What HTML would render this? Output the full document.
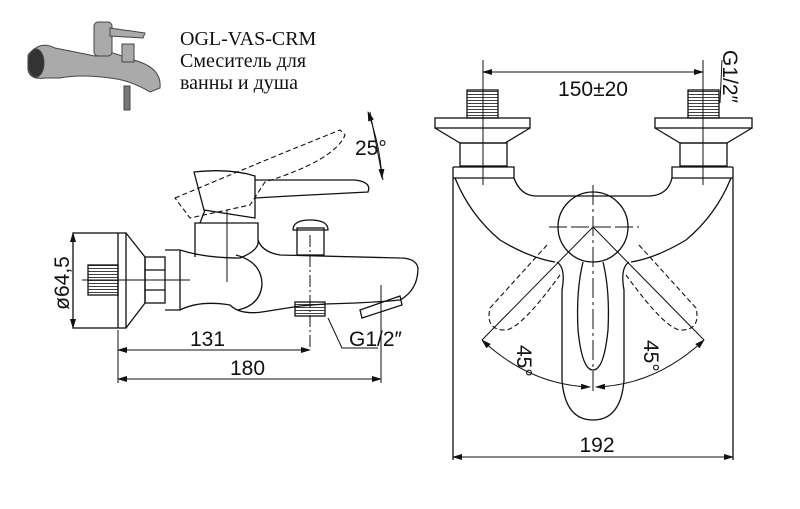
<!DOCTYPE html>
<html><head><meta charset="utf-8"><style>
html,body{margin:0;padding:0;background:#fff;}
svg{display:block;}
.t{font-family:"Liberation Serif","Noto Serif CJK SC",serif;font-size:20px;fill:#111;}
.d{font-family:"Liberation Sans","DejaVu Sans",sans-serif;font-size:21px;fill:#111;}
</style></head><body>
<svg width="800" height="509" viewBox="0 0 800 509" xmlns="http://www.w3.org/2000/svg">
<defs><marker id="a" markerWidth="10" markerHeight="6" refX="9" refY="3" orient="auto-start-reverse"><path d="M0,0 L10,3 L0,6 Z" fill="#111"/></marker>
<pattern id="h" width="4" height="3" patternUnits="userSpaceOnUse"><line x1="0" y1="1.5" x2="4" y2="1.5" stroke="#111" stroke-width="0.8"/></pattern></defs>
<!-- photo -->
<g fill="#aaa" stroke="#444" stroke-width="1">
<path d="M28,55 Q40,40 55,48 L90,55 Q100,58 110,52 L140,62 Q162,70 160,88 L150,92 Q130,80 110,78 Q80,74 60,78 L45,78 Q30,80 28,70 Z"/>
<ellipse cx="36" cy="63" rx="8" ry="14" fill="#333"/>
<rect x="94" y="22" width="18" height="34" rx="4"/>
<path d="M110,28 L145,33 L143,38 L110,36Z"/>
<rect x="122" y="44" width="12" height="18"/>
<rect x="124" y="86" width="6" height="24" fill="#777"/>
</g>
<text class="t" x="180" y="45">OGL-VAS-CRM</text>
<text class="t" x="180" y="67">Смеситель для</text>
<text class="t" x="180" y="89">ванны и душа</text>

<g fill="none" stroke="#111" stroke-width="1.3">
<!-- left view -->
<rect x="73" y="233" width="53" height="95"/>
<line x1="118" y1="233" x2="118" y2="328"/>
<path d="M126,233 L145,257 L145,303 L126,328"/>
<rect x="145" y="257" width="20" height="46"/>
<line x1="145" y1="270" x2="165" y2="270"/><line x1="145" y1="290" x2="165" y2="290"/>
<rect x="88" y="265" width="30" height="30" fill="url(#h)"/>
<path d="M165,250 L180,250 Q205,258 240,258 Q260,250 258,240 L258,223 L195,223 L195,257"/>
<path d="M180,250 L180,310 L165,310"/>
<path d="M180,310 Q200,300 230,305 Q240,315 262,312 L300,306 L325,304 Q370,303 400,300 Q418,290 418,268 Q416,258 400,258 L280,255 Q262,252 258,240"/>
<path d="M236,255 Q262,262 262,285 Q260,305 238,310"/>
<path d="M194,172 Q230,168 255,176 L255,218 L204,210 Z"/>
<path d="M255,180 L355,180 Q372,182 368,192 L290,196 L255,198"/>
<path d="M205,210 L200,223"/>
<rect x="297" y="228" width="27" height="27"/>
<path d="M293,230 Q293,220 310,220 Q328,220 328,230 Z"/>
<rect x="295" y="302" width="30" height="14" fill="url(#h)"/>
<path d="M360,310 L400,296 L402,305 L362,318 Z"/>
</g>
<g fill="none" stroke="#111" stroke-width="1.1" stroke-dasharray="5,3">
<path d="M175,198 L230,175 Q290,150 340,130 L345,135 Q335,160 265,182 L250,205 L190,218 Z"/>
</g>
<g stroke="#111" stroke-width="1">
<line x1="227" y1="210" x2="227" y2="282"/>
<line x1="82" y1="280" x2="190" y2="280"/>
<line x1="310" y1="235" x2="310" y2="350" stroke-dasharray="12,3,2,3"/>
<line x1="370" y1="112" x2="383" y2="180"/>
<line x1="381" y1="285" x2="381" y2="383"/>
<line x1="118" y1="330" x2="118" y2="383"/>
<line x1="73" y1="233" x2="73" y2="328" marker-start="url(#a)" marker-end="url(#a)"/>
<line x1="118" y1="350" x2="310" y2="350" marker-start="url(#a)" marker-end="url(#a)"/>
<line x1="118" y1="379" x2="381" y2="379" marker-start="url(#a)" marker-end="url(#a)"/>
<path d="M368,112 Q380,145 382,178" fill="none" marker-start="url(#a)" marker-end="url(#a)"/>
<path d="M328,318 L342,348 L378,348" fill="none"/>
</g>
<text class="d" x="355" y="155">25°</text>
<text class="d" x="190" y="346">131</text>
<text class="d" x="230" y="375">180</text>
<text class="d" x="349" y="346">G1/2″</text>
<text class="d" transform="translate(69,283) rotate(-90)" text-anchor="middle">ø64,5</text>

<!-- right view -->
<g fill="none" stroke="#111" stroke-width="1.3">
<line x1="453" y1="167" x2="453" y2="460"/>
<line x1="733" y1="167" x2="733" y2="460"/>
<path d="M453,167 L514,167 L514,178 M672,178 L672,167 L733,167"/>
<path d="M453,178 L514,178 Q520,195 535,196 L650,196 Q668,195 672,178 L733,178"/>
<path d="M455,178 Q470,215 500,240 Q530,258 555,262"/>
<path d="M731,178 Q716,215 686,240 Q656,258 631,262"/>
<rect x="435" y="118" width="95" height="10"/>
<path d="M435,128 L460,143 L505,143 L530,128"/>
<rect x="460" y="143" width="47" height="23"/>
<rect x="467" y="90" width="31" height="28" fill="url(#h)"/>
<rect x="655" y="118" width="97" height="10"/>
<path d="M655,128 L680,143 L727,143 L752,128"/>
<rect x="680" y="143" width="47" height="23"/>
<rect x="688" y="90" width="31" height="28" fill="url(#h)"/>
<circle cx="593" cy="227" r="35"/>
<path d="M557,262 Q566,268 562,290 L562,380 Q565,420 593,420 Q621,420 624,380 L624,290 Q620,268 629,262"/>
<path d="M583,262 Q576,290 578,330 Q582,370 593,370 Q604,370 608,330 Q610,290 603,262"/>
</g>
<g fill="none" stroke="#111" stroke-width="1.1" stroke-dasharray="5,3">
<path d="M547,245 L490,308 Q485,330 505,330 Q520,330 560,275"/>
<path d="M639,245 L696,308 Q701,330 681,330 Q666,330 626,275"/>
</g>
<g stroke="#111" stroke-width="1">
<line x1="483" y1="60" x2="483" y2="185"/><line x1="703" y1="60" x2="703" y2="185"/>
<line x1="483" y1="72" x2="703" y2="72" marker-start="url(#a)" marker-end="url(#a)"/>
<line x1="549" y1="227" x2="639" y2="227" stroke-dasharray="18,4"/>
<line x1="593" y1="185" x2="593" y2="395" stroke-dasharray="20,4,3,4"/>
<line x1="593" y1="227" x2="482" y2="340"/><line x1="593" y1="227" x2="704" y2="340"/>
<path d="M482,340 Q530,385 590,387" fill="none" marker-start="url(#a)" marker-end="url(#a)"/>
<path d="M704,340 Q656,385 596,387" fill="none" marker-start="url(#a)" marker-end="url(#a)"/>
<line x1="453" y1="457" x2="733" y2="457" marker-start="url(#a)" marker-end="url(#a)"/>
<path d="M720,103 L722,60" fill="none"/>
</g>
<text class="d" x="593" y="96" text-anchor="middle">150±20</text>
<text class="d" x="597" y="452" text-anchor="middle">192</text>
<text class="d" transform="translate(723,50) rotate(90)">G1/2″</text>
<text class="d" transform="translate(517,345) rotate(90)">45°</text>
<text class="d" transform="translate(644,340) rotate(90)">45°</text>
</svg>
</body></html>
